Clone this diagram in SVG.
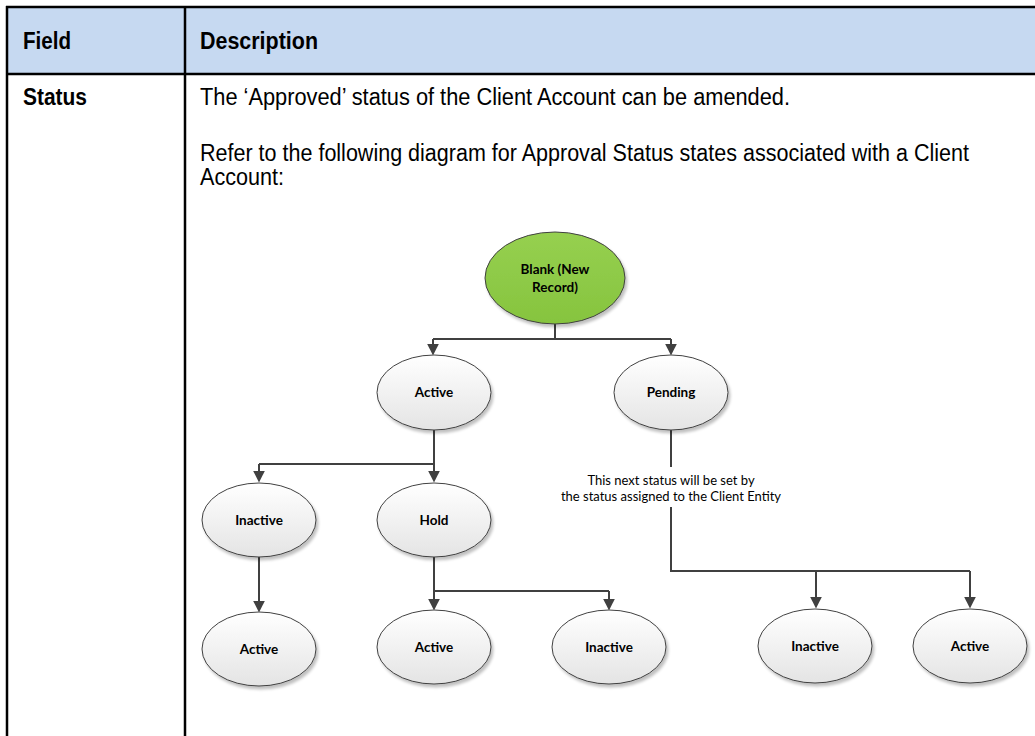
<svg xmlns="http://www.w3.org/2000/svg" width="1035" height="736" viewBox="0 0 1035 736">
<style>
.hdr{font-family:"Liberation Sans",Arial,sans-serif;font-weight:bold;font-size:23px;fill:#000}
.body{font-family:"Liberation Sans",Arial,sans-serif;font-size:23px;fill:#000}
.nl{font-family:Lato,"Open Sans",sans-serif;font-weight:bold;font-size:13.5px;fill:#000;text-anchor:middle}
.note{font-family:Lato,"Open Sans",sans-serif;font-size:13px;fill:#000;text-anchor:middle}
.grid{stroke:#000;stroke-width:2.5;fill:none}
.gray{fill:url(#gg);stroke:#404040;stroke-width:1;filter:url(#sh)}
.green{fill:url(#gn);stroke:#404040;stroke-width:1;filter:url(#sh)}
.conn{stroke:#404040;stroke-width:2;fill:none}
.arr{stroke:#404040;stroke-width:2;fill:none;marker-end:url(#ah)}
</style>
<defs>
<linearGradient id="gg" x1="0" y1="0" x2="0" y2="1"><stop offset="0" stop-color="#ffffff"/><stop offset="1" stop-color="#e4e4e4"/></linearGradient>
<linearGradient id="gn" x1="0" y1="0" x2="0" y2="1"><stop offset="0" stop-color="#96d050"/><stop offset="1" stop-color="#86c43e"/></linearGradient>
<filter id="sh" x="-20%" y="-20%" width="150%" height="150%"><feGaussianBlur in="SourceAlpha" stdDeviation="1.5"/><feOffset dx="2" dy="3" result="b"/><feComponentTransfer><feFuncA type="linear" slope="0.25"/></feComponentTransfer><feMerge><feMergeNode/><feMergeNode in="SourceGraphic"/></feMerge></filter>
<marker id="ah" viewBox="0 0 10 10" refX="2" refY="5" markerWidth="12" markerHeight="12" markerUnits="userSpaceOnUse" orient="auto"><path d="M0,0 L10,5 L0,10 z" fill="#404040"/></marker>
</defs>
<g id="table">
<rect x="7" y="7" width="1028" height="67" fill="#c6d9f1"/>
<path class="grid" d="M6,7 H1035 M6,74 H1035 M7,6 V736 M185,6 V736"/>
<text class="hdr" x="23" y="49" textLength="48" lengthAdjust="spacingAndGlyphs">Field</text>
<text class="hdr" x="200" y="49" textLength="118" lengthAdjust="spacingAndGlyphs">Description</text>
<text class="hdr" x="23" y="105" textLength="64" lengthAdjust="spacingAndGlyphs">Status</text>
<text class="body" x="200" y="105" textLength="590" lengthAdjust="spacingAndGlyphs">The ‘Approved’ status of the Client Account can be amended.</text>
<text class="body" x="200" y="161" textLength="769" lengthAdjust="spacingAndGlyphs">Refer to the following diagram for Approval Status states associated with a Client</text>
<text class="body" x="200" y="185" textLength="84" lengthAdjust="spacingAndGlyphs">Account:</text>
</g>
<g id="connectors">
<path class="conn" d="M555,324 V339 M433,339 H671"/>
<path class="arr" d="M433,339 V346"/>
<path class="arr" d="M671,339 V346"/>
<path class="conn" d="M434,430 V464 M259,464 H434"/>
<path class="arr" d="M259,464 V473"/>
<path class="arr" d="M434,464 V473"/>
<path class="arr" d="M259,557 V603"/>
<path class="conn" d="M434,557 V591 H609"/>
<path class="arr" d="M434,591 V601"/>
<path class="arr" d="M609,591 V601"/>
<path class="conn" d="M671,430 V467 M671,507 V571 H970"/>
<path class="arr" d="M816,571 V599"/>
<path class="arr" d="M970,571 V599"/>
<text class="note" x="671" y="485">This next status will be set by</text>
<text class="note" x="671" y="501">the status assigned to the Client Entity</text>
</g>
<g id="n-blank"><ellipse class="green" cx="555" cy="278" rx="70" ry="46"/><text class="nl" x="555" y="274">Blank (New</text><text class="nl" x="555" y="292">Record)</text></g>
<g id="n-active1"><ellipse class="gray" cx="434" cy="392.5" rx="57" ry="37.5"/><text class="nl" x="434" y="397">Active</text></g>
<g id="n-pending"><ellipse class="gray" cx="671" cy="392.5" rx="57" ry="37.5"/><text class="nl" x="671" y="397">Pending</text></g>
<g id="n-inactive1"><ellipse class="gray" cx="259" cy="520" rx="57" ry="37"/><text class="nl" x="259" y="525">Inactive</text></g>
<g id="n-hold"><ellipse class="gray" cx="434" cy="520" rx="57" ry="37"/><text class="nl" x="434" y="525">Hold</text></g>
<g id="n-active2"><ellipse class="gray" cx="259" cy="649" rx="57" ry="37"/><text class="nl" x="259" y="654">Active</text></g>
<g id="n-active3"><ellipse class="gray" cx="434" cy="647" rx="57" ry="37"/><text class="nl" x="434" y="652">Active</text></g>
<g id="n-inactive2"><ellipse class="gray" cx="609" cy="647" rx="57" ry="37"/><text class="nl" x="609" y="652">Inactive</text></g>
<g id="n-inactive3"><ellipse class="gray" cx="815" cy="646" rx="57" ry="37"/><text class="nl" x="815" y="651">Inactive</text></g>
<g id="n-active4"><ellipse class="gray" cx="970" cy="646" rx="57" ry="37"/><text class="nl" x="970" y="651">Active</text></g>
</svg>
